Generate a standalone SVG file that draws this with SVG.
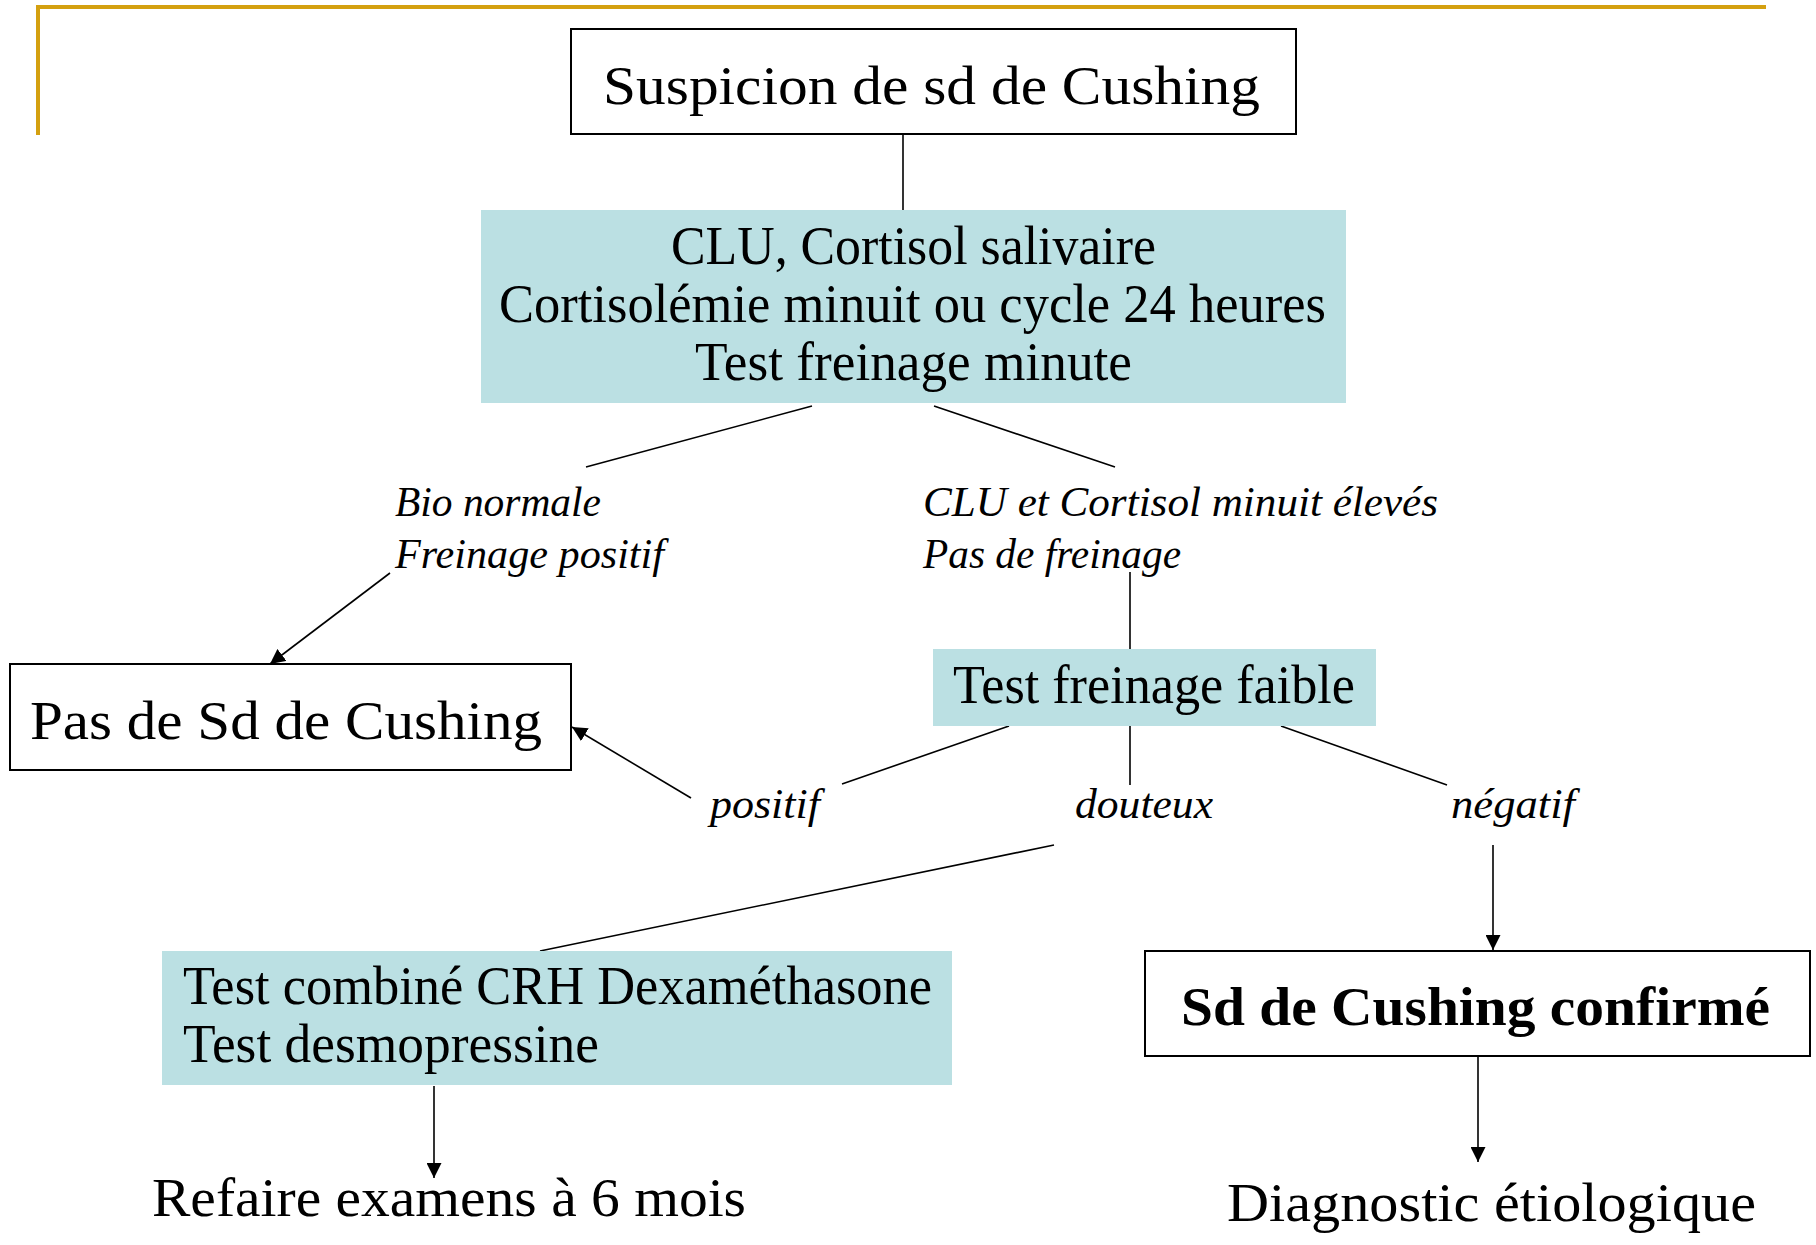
<svg xmlns="http://www.w3.org/2000/svg" width="1816" height="1245" viewBox="0 0 1816 1245">
<style>
.t{font-family:"Liberation Serif","Times New Roman",serif;font-size:55px;fill:#000}
.i{font-family:"Liberation Serif","Times New Roman",serif;font-size:43px;font-style:italic;fill:#000}
.b{font-weight:bold}
.box{fill:#fff;stroke:#000;stroke-width:2}
.fill{fill:#BBE0E3}
.c line{stroke:#000;stroke-width:1.6}
</style>
<defs>
<marker id="ah" viewBox="0 0 15 15" refX="15" refY="7.5" markerWidth="15" markerHeight="15" markerUnits="userSpaceOnUse" orient="auto">
<path d="M0,0 L15,7.5 L0,15 z" fill="#000"/>
</marker>
</defs>
<rect width="1816" height="1245" fill="#fff"/>
<g id="frame" fill="none" stroke="#D4A010" stroke-width="4">
<line x1="37" y1="7" x2="1766" y2="7"/>
<line x1="38" y1="5" x2="38" y2="135"/>
</g>
<g class="c" id="connectors">
<line x1="903" y1="134" x2="903" y2="210"/>
<line x1="812" y1="406" x2="586" y2="467"/>
<line x1="934" y1="406" x2="1115" y2="467"/>
<line x1="390" y1="573" x2="270" y2="664" marker-end="url(#ah)"/>
<line x1="1130" y1="572" x2="1130" y2="649"/>
<line x1="1009" y1="726" x2="842" y2="784"/>
<line x1="1130" y1="726" x2="1130" y2="785"/>
<line x1="1281" y1="726" x2="1447" y2="785"/>
<line x1="691" y1="798" x2="572" y2="727" marker-end="url(#ah)"/>
<line x1="1054" y1="845" x2="540" y2="951"/>
<line x1="1493" y1="845" x2="1493" y2="950" marker-end="url(#ah)"/>
<line x1="434" y1="1086" x2="434" y2="1178" marker-end="url(#ah)"/>
<line x1="1478" y1="1057" x2="1478" y2="1162" marker-end="url(#ah)"/>
</g>
<g id="n-suspicion">
<rect class="box" x="571" y="29" width="725" height="105"/>
<text class="t" x="603" y="104" textLength="657" lengthAdjust="spacingAndGlyphs">Suspicion de sd de Cushing</text>
</g>
<g id="n-clu">
<rect class="fill" x="481" y="210" width="865" height="193"/>
<text class="t" x="671" y="264" textLength="485" lengthAdjust="spacingAndGlyphs">CLU, Cortisol salivaire</text>
<text class="t" x="499" y="322" textLength="827" lengthAdjust="spacingAndGlyphs">Cortisolémie minuit ou cycle 24 heures</text>
<text class="t" x="695" y="380" textLength="437" lengthAdjust="spacingAndGlyphs">Test freinage minute</text>
</g>
<g id="l-bio">
<text class="i" x="395" y="516" textLength="206" lengthAdjust="spacingAndGlyphs">Bio normale</text>
<text class="i" x="395" y="568" textLength="269" lengthAdjust="spacingAndGlyphs">Freinage positif</text>
</g>
<g id="l-clu">
<text class="i" x="923" y="516" textLength="515" lengthAdjust="spacingAndGlyphs">CLU et Cortisol minuit élevés</text>
<text class="i" x="923" y="568" textLength="258" lengthAdjust="spacingAndGlyphs">Pas de freinage</text>
</g>
<g id="n-pas">
<rect class="box" x="10" y="664" width="561" height="106"/>
<text class="t" x="30" y="739" textLength="512" lengthAdjust="spacingAndGlyphs">Pas de Sd de Cushing</text>
</g>
<g id="n-faible">
<rect class="fill" x="933" y="649" width="443" height="77"/>
<text class="t" x="953" y="703" textLength="402" lengthAdjust="spacingAndGlyphs">Test freinage faible</text>
</g>
<g id="l-res">
<text class="i" x="710" y="818" textLength="110" lengthAdjust="spacingAndGlyphs">positif</text>
<text class="i" x="1075" y="818" textLength="138" lengthAdjust="spacingAndGlyphs">douteux</text>
<text class="i" x="1451" y="818" textLength="124" lengthAdjust="spacingAndGlyphs">négatif</text>
</g>
<g id="n-combine">
<rect class="fill" x="162" y="951" width="790" height="134"/>
<text class="t" x="183" y="1004" textLength="749" lengthAdjust="spacingAndGlyphs">Test combiné CRH Dexaméthasone</text>
<text class="t" x="183" y="1062" textLength="416" lengthAdjust="spacingAndGlyphs">Test desmopressine</text>
</g>
<g id="n-confirme">
<rect class="box" x="1145" y="951" width="665" height="105"/>
<text class="t b" x="1181" y="1025" textLength="589" lengthAdjust="spacingAndGlyphs">Sd de Cushing confirmé</text>
</g>
<g id="n-refaire">
<text class="t" x="152" y="1216" textLength="594" lengthAdjust="spacingAndGlyphs">Refaire examens à 6 mois</text>
</g>
<g id="n-diag">
<text class="t" x="1227" y="1221" textLength="529" lengthAdjust="spacingAndGlyphs">Diagnostic étiologique</text>
</g>
</svg>
